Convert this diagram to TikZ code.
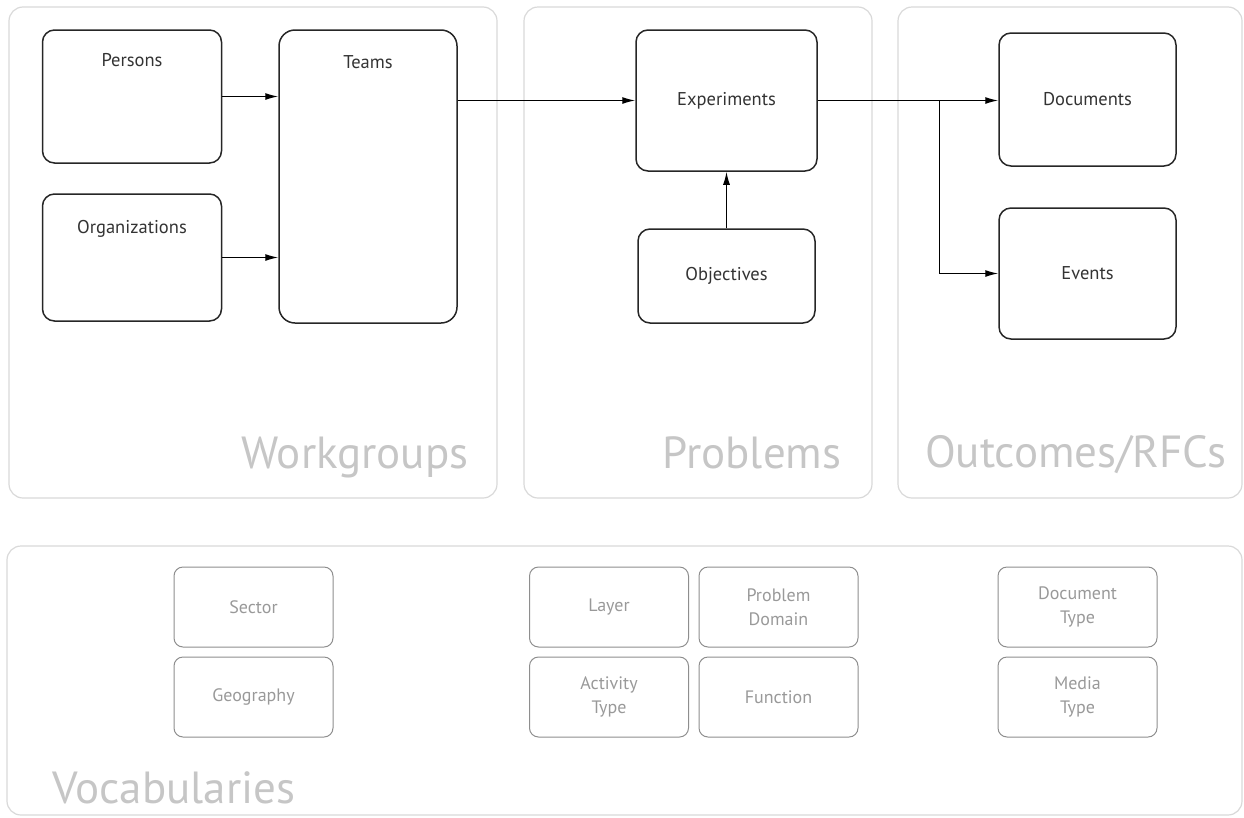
\documentclass[tikz,border=0pt]{standalone}
\usepackage{fontspec}
\setmainfont{PT Sans}
\usetikzlibrary{arrows.meta}

\definecolor{panelline}{HTML}{D9D9D9}
\definecolor{paneltext}{HTML}{C6C6C6}
\definecolor{vocabline}{HTML}{8E8E8E}
\definecolor{vocabtext}{HTML}{999999}

\tikzset{
	panel/.style={draw=panelline, line width=1.2pt, rounded corners=14pt},
	paneltitle/.style={text=paneltext, inner sep=0pt, font=\fontsize{45}{48}\selectfont},
	entity/.style={draw=black!85, line width=1.5pt, rounded corners=12pt, text=black!80, font=\fontsize{18.5}{20}\selectfont},
	entitylabel/.style={anchor=center, text=black!80, font=\fontsize{18.5}{20}\selectfont},
	vocab/.style={draw=vocabline, line width=1pt, rounded corners=9pt, minimum width=159pt, minimum height=80pt, align=center, text=vocabtext, font=\fontsize{18}{24}\selectfont},
	link/.style={line width=1.3pt, -{Latex[length=13pt,width=7pt]}},
}

\begin{document}
\begin{tikzpicture}[x=1pt, y=-1pt]
	\useasboundingbox (0,0) rectangle (1244,817);

	% panels
	\node[panel, minimum width=488pt, minimum height=491pt] (workgroups) at (253,252.5) {};
	\node[panel, minimum width=348pt, minimum height=491pt] (problems) at (698,252.5) {};
	\node[panel, minimum width=344pt, minimum height=491pt] (outcomes) at (1070,252.5) {};
	\node[panel, minimum width=1235pt, minimum height=269pt] (vocabularies) at (624.5,680.5) {};

	\node[paneltitle, anchor=base east] at ([xshift=-29pt, yshift=30pt]workgroups.south east) {Workgroups};
	\node[paneltitle, anchor=base east] at ([xshift=-31pt, yshift=30pt]problems.south east) {Problems};
	\node[paneltitle, anchor=base east] at ([xshift=-16pt, yshift=31pt]outcomes.south east) {Outcomes/RFCs};
	\node[paneltitle, anchor=base west] at ([xshift=46pt, yshift=12pt]vocabularies.south west) {Vocabularies};

	% workgroups
	\node[entity, minimum width=179pt, minimum height=133pt, label={[entitylabel, yshift=-31pt]north:Persons}] (persons) at (132,96.5) {};
	\node[entity, minimum width=179pt, minimum height=127pt, label={[entitylabel, yshift=-36pt]north:Organizations}] (orgs) at (132,257.5) {};
	\node[entity, minimum width=178pt, minimum height=293pt, rounded corners=16pt, label={[entitylabel, yshift=-33pt]north:Teams}] (teams) at (368,176.5) {};

	% problems
	\node[entity, minimum width=181pt, minimum height=141pt] (exps) at (726.5,100.5) {Experiments};
	\node[entity, minimum width=177pt, minimum height=94pt] (objs) at (726.5,276) {Objectives};

	% outcomes
	\node[entity, minimum width=177pt, minimum height=133pt] (docs) at (1087.5,99.5) {Documents};
	\node[entity, minimum width=177pt, minimum height=131pt] (events) at (1087.5,273.5) {Events};

	% links
	\draw[link] (persons.east) -- (persons.east -| teams.west);
	\draw[link] (orgs.east) -- (orgs.east -| teams.west);
	\draw[link] (exps.west -| teams.east) -- (exps.west);
	\draw[link] (objs.north) -- (exps.south);
	\draw[link] (exps.east) -- (exps.east -| docs.west) coordinate[pos=0.676] (split);
	\draw[link] (split) |- (events.west);

	% vocabularies
	\node[vocab] (sector) at (253.5,607) {Sector};
	\node[vocab] (geo) at (253.5,697) {Geography};
	\node[vocab] (layer) at (609,607) {Layer};
	\node[vocab] (activity) at (609,697) {Activity\\Type};
	\node[vocab] (domain) at (778.5,607) {Problem\\Domain};
	\node[vocab] (function) at (778.5,697) {Function};
	\node[vocab] (doctype) at (1077.5,607) {Document\\Type};
	\node[vocab] (media) at (1077.5,697) {Media\\Type};
\end{tikzpicture}
\end{document}
